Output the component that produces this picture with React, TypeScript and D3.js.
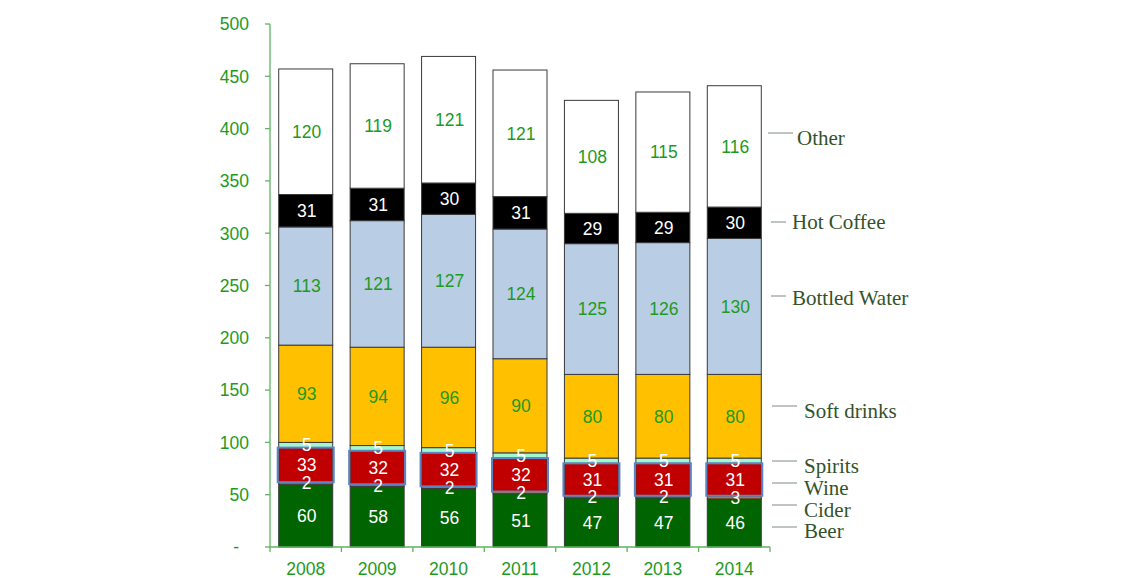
import React from "react";
import * as d3 from "d3";

const years = ["2008", "2009", "2010", "2011", "2012", "2013", "2014"];
const seriesNames = ["Beer", "Cider", "Wine", "Spirits", "Soft drinks", "Bottled Water", "Hot Coffee", "Other"];
const beer = [60, 58, 56, 51, 47, 47, 46];
const cider = [2, 2, 2, 2, 2, 2, 3];
const wine = [33, 32, 32, 32, 31, 31, 31];
const spirits = [5, 5, 5, 5, 5, 5, 5];
const softDrinks = [93, 94, 96, 90, 80, 80, 80];
const bottledWater = [113, 121, 127, 124, 125, 126, 130];
const hotCoffee = [31, 31, 30, 31, 29, 29, 30];
const other = [120, 119, 121, 121, 108, 115, 116];
const yTicks = [0, 50, 100, 150, 200, 250, 300, 350, 400, 450, 500];

const seriesValues = [beer, cider, wine, spirits, softDrinks, bottledWater, hotCoffee, other];

const fills = ["#006400", "#E46C0A", "#C00000", "#A3F7CF", "#FFC000", "#B9CDE5", "#000000", "#FFFFFF"];
const labelColors = ["#FFFFFF", "#FFFFFF", "#FFFFFF", "#FFFFFF", "#1E9A1E", "#1E9A1E", "#FFFFFF", "#1E9A1E"];

// legend layout (pixel): line y, text baseline, line x1, x2, text x
const legendLayout = [
  { ly: 527, ty: 538, x1: 772, x2: 797, tx: 804 },
  { ly: 505, ty: 517, x1: 772, x2: 797, tx: 804 },
  { ly: 483, ty: 495, x1: 772, x2: 797, tx: 804 },
  { ly: 461, ty: 473, x1: 772, x2: 797, tx: 804 },
  { ly: 406, ty: 418, x1: 772, x2: 797, tx: 804 },
  { ly: 296, ty: 305, x1: 771, x2: 786, tx: 792 },
  { ly: 222, ty: 229, x1: 771, x2: 786, tx: 792 },
  { ly: 133, ty: 145, x1: 768, x2: 793, tx: 797 },
];

export default function App() {
  const W = 1131, H = 578;
  const x0 = 270, x1 = 770, yBottom = 547, yTop = 24;
  const pi = 0.244;
  const x = d3.scaleBand<string>().domain(years).range([x0, x1]).paddingInner(pi).paddingOuter(pi / 2);
  const y = d3.scaleLinear().domain([0, 500]).range([yBottom, yTop]);
  const step = x.step();

  const rows = years.map((yr, i) => {
    const r: any = { year: yr };
    seriesNames.forEach((s, k) => (r[s] = seriesValues[k][i]));
    return r;
  });
  const stacked = d3.stack<any>().keys(seriesNames)(rows);

  const green = "#1E9A1E";
  const axisColor = "#5DB55D";
  const numFont = "Arial, 'Liberation Sans', sans-serif";
  const boundaries = years.map((yr) => (x(yr) as number) - (step * pi) / 2).concat([x1]);

  return (
    <svg width={W} height={H} style={{ position: "absolute", left: 0, top: 0 }}>
      <rect x={0} y={0} width={W} height={H} fill="#fff" />
      {/* bars */}
      {stacked.map((layer, k) => (
        <g key={layer.key}>
          {layer.map((d, i) => {
            const bx = x(years[i]) as number;
            const top = y(d[1]);
            const h = y(d[0]) - y(d[1]);
            return (
              <rect
                key={i}
                x={bx}
                y={top}
                width={x.bandwidth()}
                height={h}
                fill={fills[k]}
                stroke="#3A3A3A"
                strokeWidth={1}
              />
            );
          })}
        </g>
      ))}
      {/* wine blue outline */}
      {stacked[2].map((d, i) => (
        <rect
          key={"wb" + i}
          x={(x(years[i]) as number) - 1}
          y={y(d[1])}
          width={x.bandwidth() + 2}
          height={y(d[0]) - y(d[1])}
          fill="none"
          stroke="#5B84C4"
          strokeWidth={2}
        />
      ))}
      {/* value labels */}
      {stacked.map((layer, k) => (
        <g key={"l" + layer.key}>
          {layer.map((d, i) => (
            <text
              key={i}
              x={(x(years[i]) as number) + x.bandwidth() / 2 + 1}
              y={y((d[0] + d[1]) / 2)}
              dy="0.36em"
              textAnchor="middle"
              fontFamily={numFont}
              fontSize={17.5}
              fill={labelColors[k]}
            >
              {seriesValues[k][i]}
            </text>
          ))}
        </g>
      ))}
      {/* y axis */}
      <line x1={x0} x2={x0} y1={yTop} y2={yBottom} stroke={axisColor} strokeWidth={1.3} />
      {yTicks.map((t) => (
        <g key={t}>
          <line x1={x0 - 5} x2={x0} y1={y(t)} y2={y(t)} stroke={axisColor} strokeWidth={1.3} />
          <text
            x={t === 0 ? 239 : 249}
            y={y(t)}
            dy="0.36em"
            textAnchor="end"
            fontFamily={numFont}
            fontSize={17.5}
            fill={green}
          >
            {t === 0 ? "-" : t}
          </text>
        </g>
      ))}
      {/* x axis */}
      <line x1={x0} x2={x1} y1={yBottom} y2={yBottom} stroke={axisColor} strokeWidth={1.3} />
      {boundaries.map((bx, i) => (
        <line key={i} x1={bx} x2={bx} y1={yBottom} y2={yBottom + 5} stroke={axisColor} strokeWidth={1.3} />
      ))}
      {years.map((yr) => (
        <text
          key={yr}
          x={(x(yr) as number) + x.bandwidth() / 2}
          y={575}
          textAnchor="middle"
          fontFamily={numFont}
          fontSize={17.5}
          fill={green}
        >
          {yr}
        </text>
      ))}
      {/* legend */}
      {seriesNames.map((s, k) => {
        const L = legendLayout[k];
        return (
          <g key={"lg" + s}>
            <line x1={L.x1} x2={L.x2} y1={L.ly} y2={L.ly} stroke="#7F8C7F" strokeWidth={1} />
            <text x={L.tx} y={L.ty} fontFamily="'Liberation Serif', 'Times New Roman', serif" fontSize={21} fill="#34522A">
              {s}
            </text>
          </g>
        );
      })}
    </svg>
  );
}
